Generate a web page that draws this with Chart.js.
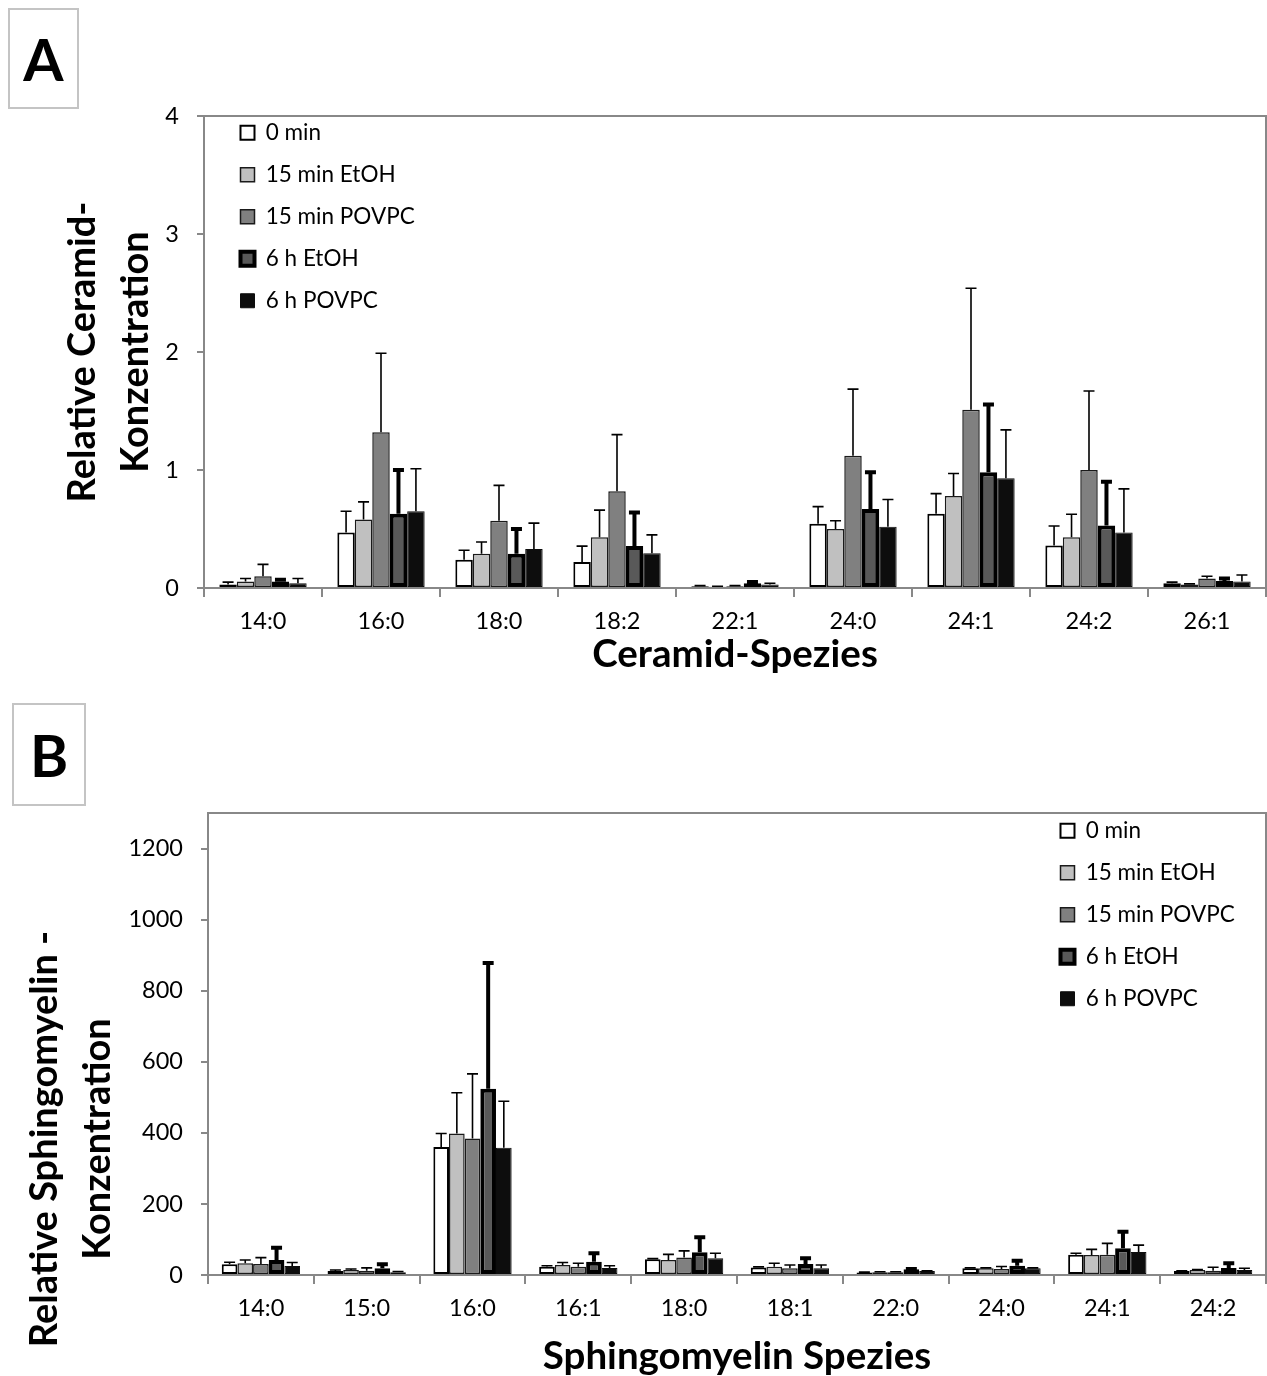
<!DOCTYPE html>
<html>
<head>
<meta charset="utf-8">
<script src="https://cdn.jsdelivr.net/npm/chart.js@4.4.1/dist/chart.umd.min.js"></script>
<style>
  html, body { margin: 0; padding: 0; background: #fff; }
  body { position: relative; width: 1267px; height: 1376px; overflow: hidden; font-family: Lato, sans-serif; }
  .tag { position: absolute; box-sizing: border-box; border: 2px solid #c4c4c4; display: flex; align-items: center; justify-content: center; font-weight: bold; font-size: 58px; color: #000; }
  .wrap { position: absolute; left: 0; width: 1267px; overflow: hidden; }
</style>
</head>
<body>
<div class="tag" style="left:8px; top:8px; width:71px; height:101px;">A</div>
<div class="tag" style="left:12px; top:703px; width:74px; height:103px;">B</div>
<div class="wrap" style="top:0; height:680px;"><canvas id="chartA" width="1267" height="680"></canvas></div>
<div class="wrap" style="top:680px; height:696px;"><canvas id="chartB" width="1267" height="785"></canvas></div>
<script>
// series names shared by both panels
const seriesNames = ['0 min', '15 min EtOH', '15 min POVPC', '6 h EtOH', '6 h POVPC'];

// Panel A - Ceramide
const cerCategories = ['14:0', '16:0', '18:0', '18:2', '22:1', '24:0', '24:1', '24:2', '26:1'];
const cer0min      = [0.03, 0.47, 0.24, 0.22, 0.015, 0.545, 0.63, 0.36, 0.04];
const cer15EtOH    = [0.055, 0.58, 0.29, 0.43, 0.01, 0.50, 0.78, 0.43, 0.03];
const cer15POVPC   = [0.10, 1.32, 0.57, 0.82, 0.015, 1.12, 1.51, 1.00, 0.08];
const cer6hEtOH    = [0.055, 0.63, 0.29, 0.355, 0.04, 0.67, 0.98, 0.53, 0.06];
const cer6hPOVPC   = [0.04, 0.65, 0.33, 0.295, 0.03, 0.52, 0.93, 0.47, 0.055];
const cer0minSD    = [0.02, 0.18, 0.08, 0.135, 0.005, 0.145, 0.17, 0.165, 0.01];
const cer15EtOHSD  = [0.025, 0.15, 0.10, 0.23, 0.005, 0.07, 0.19, 0.195, 0.005];
const cer15POVPCSD = [0.10, 0.67, 0.30, 0.48, 0.005, 0.565, 1.03, 0.67, 0.02];
const cer6hEtOHSD  = [0.015, 0.37, 0.21, 0.285, 0.01, 0.31, 0.575, 0.37, 0.02];
const cer6hPOVPCSD = [0.04, 0.36, 0.22, 0.155, 0.01, 0.23, 0.41, 0.37, 0.055];

// Panel B - Sphingomyelin
const smCategories = ['14:0', '15:0', '16:0', '16:1', '18:0', '18:1', '22:0', '24:0', '24:1', '24:2'];
const sm0min       = [30, 11, 360, 23, 44, 21, 7, 19, 57, 11];
const sm15EtOH     = [33, 14, 398, 28, 42, 23, 8, 19, 56, 14];
const sm15POVPC    = [31, 12, 384, 23, 49, 19, 8, 17, 57, 12];
const sm6hEtOH     = [42, 19, 524, 37, 64, 31, 16, 26, 75, 20];
const sm6hPOVPC    = [25, 8, 358, 20, 47, 19, 11, 19, 65, 14];
const sm0minSD     = [6, 3, 38, 3, 2, 2, 1, 1, 4, 1];
const sm15EtOHSD   = [9, 3, 115, 7, 16, 10, 1, 1, 16, 1];
const sm15POVPCSD  = [18, 8, 182, 10, 19, 9, 1, 7, 32, 10];
const sm6hEtOHSD   = [35, 11, 354, 24, 42, 16, 1, 14, 47, 13];
const sm6hPOVPCSD  = [10, 2, 131, 6, 14, 9, 1, 1, 19, 5];

const cerTicks = [0, 1, 2, 3, 4];
const smTicks = [0, 200, 400, 600, 800, 1000, 1200];

Chart.defaults.font.family = 'Lato';
Chart.defaults.color = '#000';

const fills   = ['#ffffff', '#c0c0c0', '#808080', '#595959', '#0d0d0d'];
const borders = ['#000000', '#1a1a1a', '#1a1a1a', '#000000', '#0d0d0d'];
const bWidths = [2, 1.5, 1.5, 4, 1];
const eWidths = [1.6, 1.6, 1.6, 4, 1.6];

function makeSets(values, sds) {
  return values.map((v, i) => ({
    label: seriesNames[i],
    data: v,
    sd: sds[i],
    errWidth: eWidths[i],
    backgroundColor: fills[i],
    borderColor: borders[i],
    borderWidth: bWidths[i],
    borderSkipped: false,
    categoryPercentage: 0.74,
    barPercentage: 1.0
  }));
}

// upper error bars, positioned with the y scale
const errorBars = {
  id: 'errorBars',
  afterDatasetsDraw(chart) {
    const ctx = chart.ctx, y = chart.scales.y;
    chart.data.datasets.forEach((ds, i) => {
      chart.getDatasetMeta(i).data.forEach((bar, j) => {
        const top = y.getPixelForValue(ds.data[j] + ds.sd[j]);
        ctx.save();
        ctx.strokeStyle = '#000';
        ctx.lineWidth = ds.errWidth;
        ctx.beginPath();
        ctx.moveTo(bar.x, bar.y);
        ctx.lineTo(bar.x, top);
        ctx.moveTo(bar.x - 5.5, top);
        ctx.lineTo(bar.x + 5.5, top);
        ctx.stroke();
        ctx.restore();
      });
    });
  }
};

const plotFrame = {
  id: 'plotFrame',
  afterDraw(chart) {
    const a = chart.chartArea, ctx = chart.ctx;
    ctx.save();
    ctx.strokeStyle = '#888';
    ctx.lineWidth = 2;
    ctx.beginPath();
    ctx.moveTo(a.left, a.top);
    ctx.lineTo(a.right, a.top);
    ctx.lineTo(a.right, a.bottom);
    ctx.stroke();
    ctx.restore();
  }
};

// move the in-plot legend to where the original has it
const legendSpot = {
  id: 'legendSpot',
  afterLayout(chart, args, opts) {
    const lg = chart.legend;
    lg.left = opts.x; lg.top = opts.y;
    lg.right = opts.x + 260; lg.bottom = opts.y + 300;
  }
};

const axisGrid = { drawOnChartArea: false, color: '#888', lineWidth: 2 };
const axisBorder = { color: '#888', width: 2 };
const tickFont = { size: 23.5 };
const plainNum = v => String(v);
const legendLabels = { boxWidth: 14, boxHeight: 14, padding: 19.5, font: { size: 22.5 }, color: '#000' };

new Chart(document.getElementById('chartA'), {
  type: 'bar',
  data: {
    labels: cerCategories,
    datasets: makeSets([cer0min, cer15EtOH, cer15POVPC, cer6hEtOH, cer6hPOVPC],
                       [cer0minSD, cer15EtOHSD, cer15POVPCSD, cer6hEtOHSD, cer6hPOVPCSD])
  },
  options: {
    responsive: false,
    animation: false,
    devicePixelRatio: 1,
    layout: { padding: { top: 116, right: 1, left: 0, bottom: 0 } },
    plugins: {
      legend: { position: 'chartArea', align: 'start', labels: legendLabels },
      tooltip: { enabled: false },
      legendSpot: { x: 221, y: 102 }
    },
    scales: {
      x: {
        grid: Object.assign({ tickLength: 9 }, axisGrid),
        border: axisBorder,
        ticks: { font: tickFont, padding: 10 },
        title: { display: true, text: 'Ceramid-Spezies', font: { size: 38.5, weight: 'bold' }, padding: { top: 0, bottom: 2 } },
        afterFit(s) { s.height = 92; }
      },
      y: {
        min: 0, max: 4,
        grid: Object.assign({ tickLength: 7 }, axisGrid),
        border: axisBorder,
        ticks: { font: tickFont, padding: 18, stepSize: 1, callback: plainNum },
        afterBuildTicks(s) { s.ticks = cerTicks.map(v => ({ value: v })); },
        title: { display: true, text: ['Relative Ceramid-', 'Konzentration'], font: { size: 38, weight: 'bold', lineHeight: 1.4 }, padding: { top: 56, bottom: 0 } },
        afterFit(s) { s.width = 204; }
      }
    }
  },
  plugins: [errorBars, plotFrame, legendSpot]
});

new Chart(document.getElementById('chartB'), {
  type: 'bar',
  data: {
    labels: smCategories,
    datasets: makeSets([sm0min, sm15EtOH, sm15POVPC, sm6hEtOH, sm6hPOVPC],
                       [sm0minSD, sm15EtOHSD, sm15POVPCSD, sm6hEtOHSD, sm6hPOVPCSD])
  },
  options: {
    responsive: false,
    animation: false,
    devicePixelRatio: 1,
    layout: { padding: { top: 133, right: 1, left: 0, bottom: 0 } },
    plugins: {
      legend: { position: 'chartArea', align: 'start', labels: legendLabels },
      tooltip: { enabled: false },
      title: {
        display: true, position: 'left',
        text: ['Relative Sphingomyelin -', 'Konzentration'],
        font: { size: 38, weight: 'bold', lineHeight: 1.4 },
        color: '#000',
        padding: { top: 18, bottom: 4 }
      },
      legendSpot: { x: 1041, y: 120 }
    },
    scales: {
      x: {
        grid: Object.assign({ tickLength: 9 }, axisGrid),
        border: axisBorder,
        ticks: { font: tickFont, padding: 10 },
        title: { display: true, text: 'Sphingomyelin Spezies', font: { size: 38.5, weight: 'bold' }, padding: { top: 0, bottom: 85 } },
        afterFit(s) { s.height = 190; }
      },
      y: {
        min: 0, max: 1300,
        grid: Object.assign({ tickLength: 7 }, axisGrid),
        border: axisBorder,
        ticks: { font: tickFont, padding: 18, stepSize: 200, callback: plainNum },
        afterBuildTicks(s) { s.ticks = smTicks.map(v => ({ value: v })); },
        afterFit(s) { s.width = 208 - (2 * 38 * 1.4 + 22); }
      }
    }
  },
  plugins: [errorBars, plotFrame, legendSpot]
});
</script>
</body>
</html>
